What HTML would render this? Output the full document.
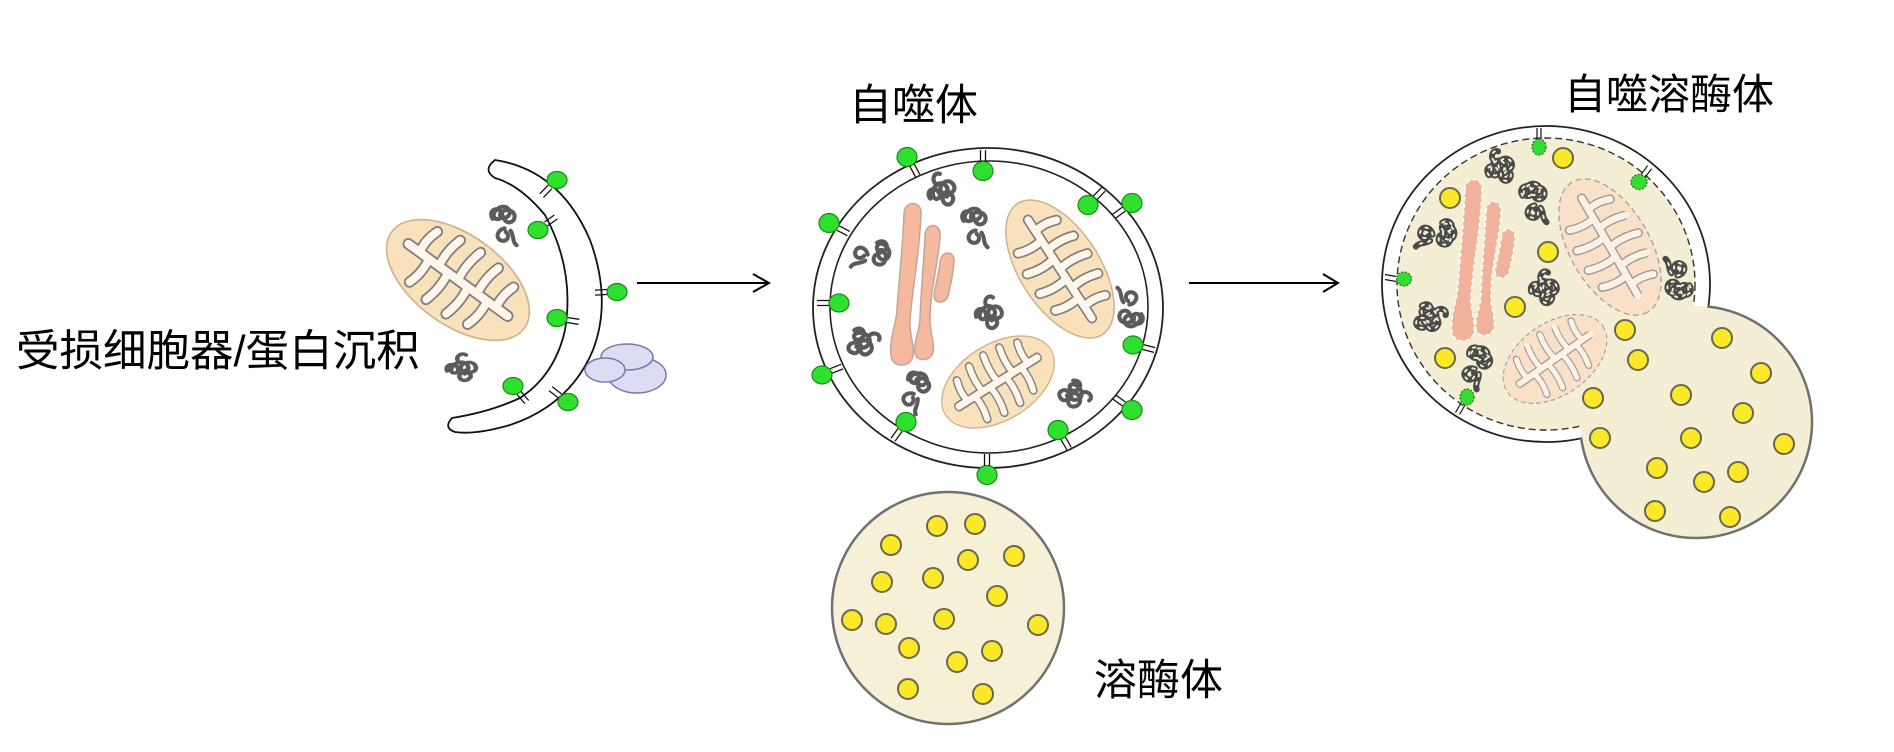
<!DOCTYPE html>
<html>
<head>
<meta charset="utf-8">
<style>
  html, body { margin: 0; padding: 0; background: #ffffff; }
  body { width: 1894px; height: 752px; overflow: hidden; }
  svg { display: block; }
  .lbl { font-family: "Liberation Sans", "Noto Sans CJK SC", "WenQuanYi Zen Hei", sans-serif; fill: #000; }
</style>
</head>
<body>
<svg width="1894" height="752" viewBox="0 0 1894 752" xmlns="http://www.w3.org/2000/svg">
  <defs>
    <path id="crist" d="M-60,0 H60 M-46,0 Q-49,-12 -44,-25 M-23,0 Q-26,-15 -21,-31 M0,0 Q-3,-16 2,-33 M23,0 Q20,-15 25,-31 M46,0 Q43,-12 48,-25 M-35,0 Q-32,14 -37,28 M-12,0 Q-9,16 -14,32 M12,0 Q15,16 10,32 M35,0 Q38,14 33,28" fill="none" stroke-linecap="round" stroke-linejoin="round"/>
    <g id="mito">
      <ellipse cx="0" cy="0" rx="80" ry="42" fill="#f9e1bc" stroke="#cfb48c" stroke-width="1.6"/>
      <use href="#crist" stroke="#7e7e7e" stroke-width="11"/>
      <use href="#crist" stroke="#fdf6ea" stroke-width="7.6"/>
    </g>
    <g id="mitof">
      <ellipse cx="0" cy="0" rx="80" ry="42" fill="#f9e0c6" stroke="#a5a5a5" stroke-width="1.5" stroke-dasharray="6 4"/>
      <use href="#crist" stroke="#9a9a9a" stroke-width="10" stroke-dasharray="5 3"/>
      <use href="#crist" stroke="#fcf1e4" stroke-width="7"/>
    </g>
    <path id="agg1" d="M-12,-6 c-4,-6 3,-11 7,-6 c4,5 -4,9 -6,4 c-1,-4 5,-9 9,-8 c5,1 6,7 1,9 c-4,2 -7,-3 -3,-5 c5,-3 12,0 10,6 c-2,5 -9,3 -8,-1 M-2,2 c-6,1 -8,8 -3,10 c5,2 8,-4 4,-7 M3,4 c3,4 1,9 5,12" fill="none" stroke-linecap="round" stroke-linejoin="round"/>
    <path id="agg2" d="M-14,4 c-2,-7 6,-9 8,-3 c2,6 -6,7 -5,1 c1,-6 9,-10 12,-4 c3,6 -4,9 -5,3 c0,-6 9,-8 11,-2 c2,6 -5,8 -7,4 M-4,6 c-3,5 2,10 6,6 c4,-4 -1,-8 -3,-5 M-6,-6 c-2,-5 3,-9 6,-6" fill="none" stroke-linecap="round" stroke-linejoin="round"/>
    <g id="chromo">
      <path d="M904,214 C904,200 922,200 921,214 C920,250 912,290 910,320 C909,335 915,345 913,356 C911,368 892,368 891,356 C889,340 896,325 897,310 C899,280 903,245 904,214 Z"/>
      <path d="M925,236 C925,222 941,222 940,236 C939,260 930,290 930,320 C930,335 935,342 933,352 C931,362 915,362 915,352 C914,340 920,330 920,318 C921,290 924,260 925,236 Z"/>
      <path d="M940,262 C941,250 955,250 954,262 C953,275 950,288 948,296 C946,304 934,304 934,296 C935,285 939,275 940,262 Z"/>
    </g>
    <mask id="noLyso" maskUnits="userSpaceOnUse" x="0" y="0" width="1894" height="752">
      <rect x="0" y="0" width="1894" height="752" fill="#fff"/>
      <circle cx="1696" cy="422" r="116" fill="#000"/>
    </mask>
    <mask id="noBig" maskUnits="userSpaceOnUse" x="0" y="0" width="1894" height="752">
      <rect x="0" y="0" width="1894" height="752" fill="#fff"/>
      <ellipse cx="1546" cy="284" rx="163" ry="157" fill="#000"/>
    </mask>
  </defs>

  <rect x="0" y="0" width="1894" height="752" fill="#ffffff"/>

  <text class="lbl" x="16" y="366" font-size="43.5">受损细胞器/蛋白沉积</text>
  <text class="lbl" x="849" y="120" font-size="43">自噬体</text>
  <text class="lbl" x="1564" y="109" font-size="42">自噬溶酶体</text>
  <text class="lbl" x="1094" y="695" font-size="43">溶酶体</text>

  <!-- Left -->
  <use href="#mito" transform="translate(458,280) rotate(36) scale(1.025,1.07)"/>
  <g stroke="#5b5b5b" stroke-width="3.4">
    <use href="#agg1" transform="translate(507,226) scale(1.2)"/>
    <use href="#agg2" transform="translate(466,367) scale(1.35,1.0)"/>
  </g>
  <path d="M495,160 Q560,170 590,240 Q612,300 593,350 Q570,405 510,425 Q475,435 455,432 Q443,428 452,418 Q490,412 520,398 Q555,375 565,330 Q575,270 545,215 Q520,185 495,178 Q482,170 495,160 Z" fill="#ffffff" stroke="#111" stroke-width="1.8"/>
  <ellipse cx="637" cy="375" rx="29" ry="18" fill="#dcdcf4" stroke="#7a7aa8" stroke-width="1.5"/>
  <ellipse cx="627" cy="357" rx="26" ry="13" fill="#dcdcf4" stroke="#7a7aa8" stroke-width="1.5"/>
  <ellipse cx="605" cy="370" rx="20" ry="12" fill="#dcdcf4" stroke="#7a7aa8" stroke-width="1.5"/>
  <g fill="#2fe02f" stroke="#1a8a1a" stroke-width="1.2">
    <ellipse cx="557" cy="180" rx="10" ry="8.5"/>
    <ellipse cx="538" cy="230" rx="10" ry="8.5"/>
    <ellipse cx="617" cy="292" rx="10" ry="8.5"/>
    <ellipse cx="557" cy="318" rx="10" ry="8.5"/>
    <ellipse cx="513" cy="386" rx="10" ry="8.5"/>
    <ellipse cx="568" cy="402" rx="10" ry="8.5"/>
  </g>
  <path d="M551.8,188.8 l-8.4,8.6 M548.2,185.2 l-8.4,8.6 M547.5,226 l9.8,-7 M544.5,222 l9.8,-7 M607,294.5 l-12,0.6 M607,289.5 l-12,0.6 M566.6,322.5 l11.9,1.8 M567.4,317.5 l11.9,1.8 M517.1,394.6 l7.8,9.1 M520.9,391.4 l7.8,9.1 M561.6,394 l-9.4,-7.4 M558.4,398 l-9.4,-7.4" stroke="#111" stroke-width="1.3" fill="none"/>

  <path d="M637,283 H768" stroke="#000" stroke-width="2" fill="none"/>
  <path d="M753,274 L769,283 L753,292" stroke="#000" stroke-width="2" fill="none"/>

  <!-- Middle -->
  <ellipse cx="988" cy="308" rx="175" ry="160" fill="#ffffff" stroke="#222" stroke-width="1.8"/>
  <ellipse cx="989" cy="307" rx="159" ry="146" fill="#ffffff" stroke="#222" stroke-width="1.6"/>
  <g fill="#f5b9a0" stroke="#c4a595" stroke-width="1.5">
    <use href="#chromo"/>
  </g>
  <use href="#mito" transform="translate(1060,269) rotate(57) scale(0.975,0.952)"/>
  <use href="#mito" transform="translate(998,382) rotate(-32) scale(0.775,0.905)"/>
  <g stroke="#5b5b5b" stroke-width="3.4">
    <use href="#agg2" transform="translate(945,188) rotate(-20) scale(1.25)"/>
    <use href="#agg1" transform="translate(978,228) scale(1.2)"/>
    <use href="#agg1" transform="translate(870,257) rotate(90) scale(1.2)"/>
    <use href="#agg2" transform="translate(993,312) scale(1.2)"/>
    <use href="#agg1" transform="translate(1127,307) rotate(180) scale(1.2)"/>
    <use href="#agg2" transform="translate(865,345) rotate(70) scale(1.25)"/>
    <use href="#agg1" transform="translate(917,393) rotate(30) scale(1.2)"/>
    <use href="#agg2" transform="translate(1075,398) rotate(100) scale(1.2)"/>
  </g>
  <g fill="#2fe02f" stroke="#1a8a1a" stroke-width="1.2">
    <ellipse cx="907" cy="157" rx="10" ry="9.5"/>
    <ellipse cx="983" cy="171" rx="10" ry="9.5"/>
    <ellipse cx="829" cy="223" rx="10" ry="9.5"/>
    <ellipse cx="1088" cy="205" rx="10" ry="9.5"/>
    <ellipse cx="1132" cy="203" rx="10" ry="9.5"/>
    <ellipse cx="839" cy="303" rx="10" ry="9"/>
    <ellipse cx="1133" cy="345" rx="10" ry="9"/>
    <ellipse cx="822" cy="375" rx="10" ry="9"/>
    <ellipse cx="906" cy="422" rx="10" ry="9.5"/>
    <ellipse cx="1058" cy="430" rx="10" ry="9.5"/>
    <ellipse cx="1132" cy="410" rx="10" ry="9.5"/>
    <ellipse cx="987" cy="475" rx="10" ry="9.5"/>
  </g>
  <path d="M914.2,163.8 l5.6,10.6 M909.8,166.2 l5.6,10.6 M985.5,162 l0,-12 M980.5,162 l0,-12 M836.8,230.2 l10.6,5.6 M839.2,225.8 l10.6,5.6 M1096.8,199.8 l8.4,-8.6 M1093.2,196.2 l8.4,-8.6 M1125.5,211 l-9.7,7.1 M1122.5,207 l-9.7,7.1 M829,305.5 l-12,0 M829,300.5 l-12,0 M1142.4,349.4 l11.6,3 M1143.6,344.6 l11.6,3 M831.9,373.3 l11.2,-4.4 M830.1,368.7 l11.2,-4.4 M902,431.5 l-7,9.7 M898,428.5 l-7,9.7 M1060.8,439.3 l6,10.4 M1065.2,436.8 l6,10.4 M1125.5,402 l-9.8,-7 M1122.5,406 l-9.8,-7 M989.5,466 l0,-12 M984.5,466 l0,-12" stroke="#111" stroke-width="1.3" fill="none"/>

  <path d="M1189,283 H1337" stroke="#000" stroke-width="2" fill="none"/>
  <path d="M1323,274 L1338,283 L1323,292" stroke="#000" stroke-width="2" fill="none"/>

  <!-- Lysosome -->
  <circle cx="948" cy="608" r="116" fill="#f6f1d6" stroke="#707070" stroke-width="2.5"/>
  <g fill="#fbe929" stroke="#6a6650" stroke-width="2">
    <circle cx="937" cy="526" r="10"/>
    <circle cx="975" cy="524" r="10"/>
    <circle cx="891" cy="545" r="10"/>
    <circle cx="968" cy="560" r="10"/>
    <circle cx="1014" cy="556" r="10"/>
    <circle cx="882" cy="582" r="10"/>
    <circle cx="933" cy="578" r="10"/>
    <circle cx="997" cy="596" r="10"/>
    <circle cx="852" cy="620" r="10"/>
    <circle cx="886" cy="624" r="10"/>
    <circle cx="944" cy="619" r="10"/>
    <circle cx="1038" cy="625" r="10"/>
    <circle cx="909" cy="648" r="10"/>
    <circle cx="992" cy="651" r="10"/>
    <circle cx="957" cy="662" r="10"/>
    <circle cx="908" cy="689" r="10"/>
    <circle cx="983" cy="694" r="10"/>
  </g>

  <!-- Right -->
  <ellipse cx="1546" cy="284" rx="164" ry="158" fill="#ffffff" stroke="#222" stroke-width="1.8"/>
  <ellipse cx="1546" cy="284" rx="149" ry="146" fill="#f4efd4"/>
  <circle cx="1696" cy="422" r="116" fill="#f4efd4"/>
  <ellipse cx="1546" cy="284" rx="149" ry="146" fill="none" stroke="#333" stroke-width="1.4" stroke-dasharray="7 4" mask="url(#noLyso)"/>
  <circle cx="1696" cy="422" r="116" fill="none" stroke="#707070" stroke-width="2.5" mask="url(#noBig)"/>

  <g transform="translate(561,-24)" fill="#f1b29b" stroke="#ffffff" stroke-width="1.6" stroke-dasharray="4 3">
    <use href="#chromo"/>
  </g>
  <use href="#mitof" transform="translate(1610,247) rotate(60) scale(0.94,0.952)"/>
  <use href="#mitof" transform="translate(1555,359) rotate(-35) scale(0.725,0.857)"/>
  <g stroke="#4a4a4a" stroke-width="5">
    <use href="#agg2" transform="translate(1503,165) rotate(-20) scale(1.2)"/>
    <use href="#agg1" transform="translate(1537,203) scale(1.2)"/>
    <use href="#agg1" transform="translate(1435,237) rotate(90) scale(1.2)"/>
    <use href="#agg2" transform="translate(1548,287) scale(1.2)"/>
    <use href="#agg1" transform="translate(1675,278) rotate(180) scale(1.2)"/>
    <use href="#agg2" transform="translate(1432,320) rotate(70) scale(1.2)"/>
    <use href="#agg1" transform="translate(1478,368) rotate(30) scale(1.2)"/>
  </g>
  <g stroke="#f4efd4" stroke-width="1.6" stroke-dasharray="2 5">
    <use href="#agg2" transform="translate(1503,165) rotate(-20) scale(1.2)"/>
    <use href="#agg1" transform="translate(1537,203) scale(1.2)"/>
    <use href="#agg1" transform="translate(1435,237) rotate(90) scale(1.2)"/>
    <use href="#agg2" transform="translate(1548,287) scale(1.2)"/>
    <use href="#agg1" transform="translate(1675,278) rotate(180) scale(1.2)"/>
    <use href="#agg2" transform="translate(1432,320) rotate(70) scale(1.2)"/>
    <use href="#agg1" transform="translate(1478,368) rotate(30) scale(1.2)"/>
  </g>
  <g fill="#fbe929" stroke="#6a6650" stroke-width="2">
    <circle cx="1563" cy="158" r="10"/>
    <circle cx="1450" cy="198" r="10"/>
    <circle cx="1548" cy="252" r="10"/>
    <circle cx="1515" cy="307" r="10"/>
    <circle cx="1445" cy="358" r="10"/>
    <circle cx="1625" cy="330" r="10"/>
    <circle cx="1722" cy="338" r="10"/>
    <circle cx="1638" cy="360" r="10"/>
    <circle cx="1761" cy="373" r="10"/>
    <circle cx="1593" cy="398" r="10"/>
    <circle cx="1681" cy="395" r="10"/>
    <circle cx="1743" cy="413" r="10"/>
    <circle cx="1600" cy="438" r="10"/>
    <circle cx="1691" cy="438" r="10"/>
    <circle cx="1784" cy="444" r="10"/>
    <circle cx="1657" cy="468" r="10"/>
    <circle cx="1738" cy="472" r="10"/>
    <circle cx="1704" cy="482" r="10"/>
    <circle cx="1655" cy="511" r="10"/>
    <circle cx="1730" cy="517" r="10"/>
  </g>
  <g fill="#33dd33" stroke="#2a6a2a" stroke-width="1.2" stroke-dasharray="2 1.5">
    <ellipse cx="1539" cy="147" rx="7" ry="8"/>
    <ellipse cx="1639" cy="182" rx="8" ry="7.5"/>
    <ellipse cx="1404" cy="279" rx="7.5" ry="7"/>
    <ellipse cx="1467" cy="397" rx="7" ry="8"/>
  </g>
  <path d="M1541,139 l0,-11 M1537,139 l0,-11 M1645,177.5 l6.6,-8.8 M1641,174.5 l6.6,-8.8 M1396,281.5 l-11,-2 M1396,276.5 l-11,-2 M1465,405 l-5.5,9.5 M1461,403 l-5.5,9.5" stroke="#111" stroke-width="1.2" fill="none"/>
</svg>
</body>
</html>
